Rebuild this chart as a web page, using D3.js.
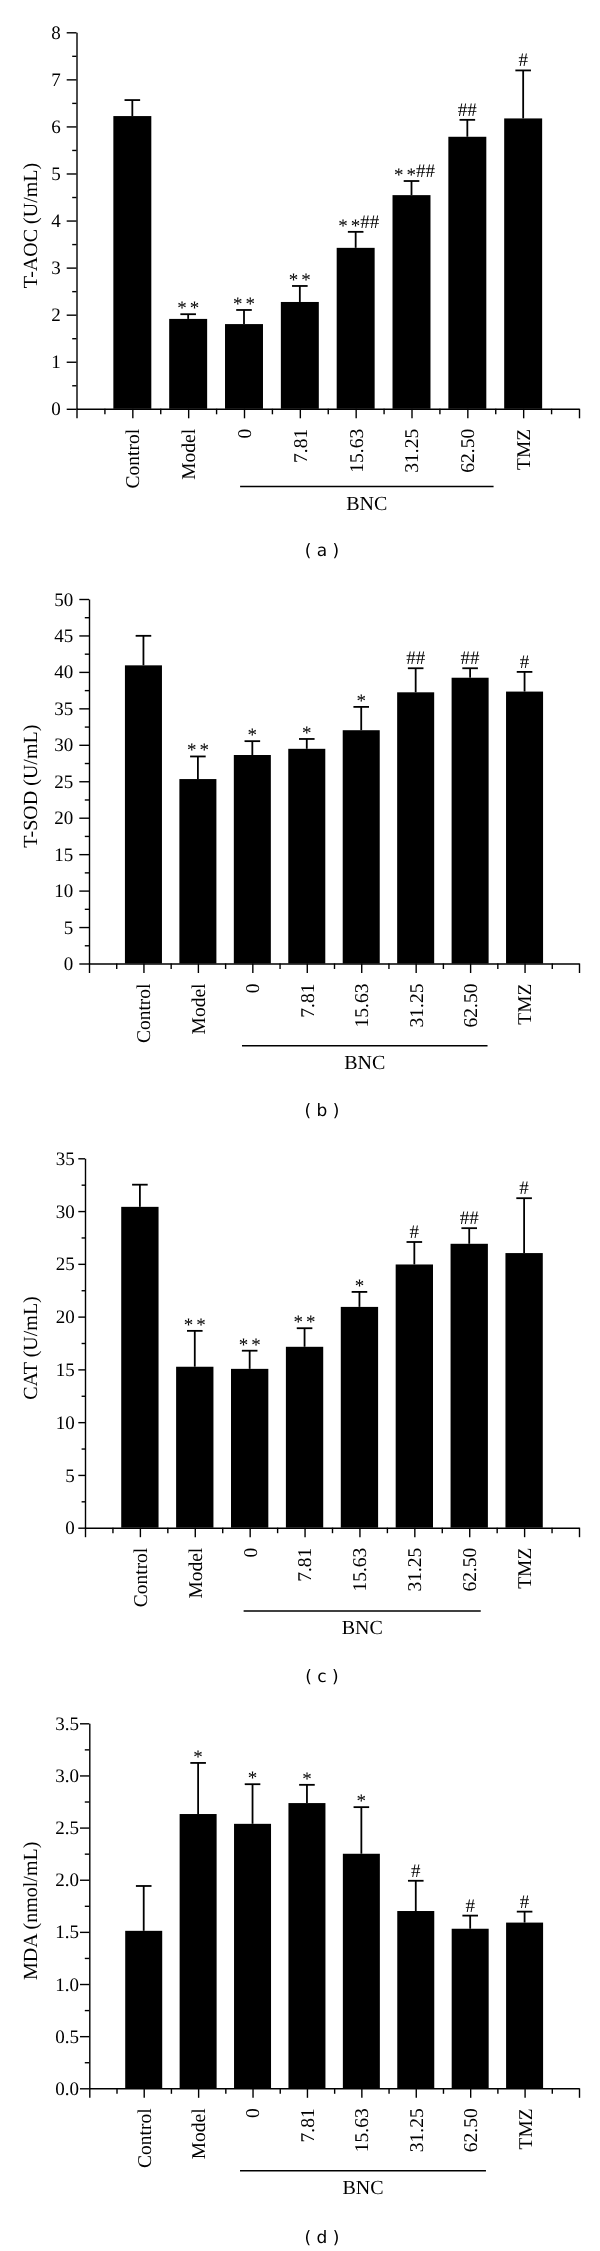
<!DOCTYPE html>
<html>
<head>
<meta charset="utf-8">
<script src="https://cdn.jsdelivr.net/npm/d3@7"></script>
<style>
  html, body { margin: 0; padding: 0; background: #fff; }
  svg { display: block; will-change: transform; }
  text { fill: #000; -webkit-font-smoothing: antialiased; text-rendering: geometricPrecision; }
</style>
</head>
<body>
<script>
// ---------------- DATA ----------------
const categories = ["Control", "Model", "0", "7.81", "15.63", "31.25", "62.50", "TMZ"];
const groupLabel = "BNC";

const taocMean = [6.22, 1.91, 1.80, 2.27, 3.42, 4.54, 5.78, 6.17];
const taocSD   = [0.34, 0.10, 0.30, 0.34, 0.34, 0.30, 0.36, 1.02];
const taocSig  = ["", "**", "**", "**", "**##", "**##", "##", "#"];

const sodMean = [40.9, 25.3, 28.6, 29.45, 32.0, 37.2, 39.2, 37.3];
const sodSD   = [4.05, 3.1, 1.9, 1.35, 3.2, 3.3, 1.3, 2.7];
const sodSig  = ["", "**", "*", "*", "*", "##", "##", "#"];

const catMean = [30.4, 15.25, 15.05, 17.14, 20.92, 24.94, 26.9, 26.02];
const catSD   = [2.1, 3.4, 1.72, 1.76, 1.42, 2.13, 1.48, 5.2];
const catSig  = ["", "**", "**", "**", "*", "#", "##", "#"];

const mdaMean = [1.51, 2.63, 2.536, 2.735, 2.249, 1.70, 1.53, 1.589];
const mdaSD   = [0.43, 0.49, 0.38, 0.175, 0.447, 0.29, 0.126, 0.105];
const mdaSig  = ["", "*", "*", "*", "*", "#", "#", "#"];

const yTitles = ["T-AOC (U/mL)", "T-SOD (U/mL)", "CAT (U/mL)", "MDA (nmol/mL)"];
const panelTags = ["( a )", "( b )", "( c )", "( d )"];
const yMaxes = [8, 50, 35, 3.5];
const ySteps = [1, 5, 5, 0.5];
const yFormats = ["d", "d", "d", ".1f"];

// ---------------- LAYOUT ----------------
const layout = [
  { x0: 76.5, x1: 579, yTop: 32.3,   yBase: 408.8,  tk: 9.8, tkMinor: 4.3, pad: 6, bncLine: 486.5, bnc: [1.93, 6.47], tagY: 556 },
  { x0: 89,   x1: 579, yTop: 599.0,  yBase: 963.5,  tk: 9.7, tkMinor: 4.2, pad: 6, bncLine: 1045.7, bnc: [1.81, 6.32], tagY: 1116 },
  { x0: 85,   x1: 579, yTop: 1158.3, yBase: 1527.7, tk: 6.7, tkMinor: 3.4, pad: 3.5, bncLine: 1611, bnc: [1.89, 6.21], tagY: 1682 },
  { x0: 89.3, x1: 579, yTop: 1723.3, yBase: 2088.3, tk: 9.3, tkMinor: 4.5, pad: 1, bncLine: 2170.7, bnc: [1.77, 6.29], tagY: 2243 }
];

const means = [taocMean, sodMean, catMean, mdaMean];
const sds = [taocSD, sodSD, catSD, mdaSD];
const sigs = [taocSig, sodSig, catSig, mdaSig];

const serif = "'Liberation Serif', 'Times New Roman', serif";
const W = 600, H = 2251;

const svg = d3.select("body").append("svg")
  .attr("width", W).attr("height", H)
  .attr("viewBox", `0 0 ${W} ${H}`);

layout.forEach((L, p) => {
  const g = svg.append("g");
  const x = d3.scaleLinear().domain([-1, 8]).range([L.x0, L.x1]);
  const y = d3.scaleLinear().domain([0, yMaxes[p]]).range([L.yBase, L.yTop]);
  const step = x(1) - x(0);
  const bw = step * 0.68;

  const data = categories.map((c, i) => ({ i, c, m: means[p][i], sd: sds[p][i], sig: sigs[p][i] }));

  // bars
  g.append("g").selectAll("rect").data(data).join("rect")
    .attr("x", d => x(d.i) - bw / 2)
    .attr("width", bw)
    .attr("y", d => y(d.m))
    .attr("height", d => y(0) - y(d.m))
    .attr("fill", "#000");

  // error bars (upper only)
  const eb = g.append("g").attr("stroke", "#000").attr("stroke-width", 1.8);
  eb.selectAll("line.v").data(data).join("line").attr("class", "v")
    .attr("x1", d => x(d.i)).attr("x2", d => x(d.i))
    .attr("y1", d => y(d.m)).attr("y2", d => y(d.m + d.sd));
  eb.selectAll("line.c").data(data).join("line").attr("class", "c")
    .attr("x1", d => x(d.i) - 7.8).attr("x2", d => x(d.i) + 7.8)
    .attr("y1", d => y(d.m + d.sd)).attr("y2", d => y(d.m + d.sd));

  // significance marks (asterisks lowered to the height of the hash signs)
  const sg = g.append("g").attr("font-family", serif).attr("font-size", 19).attr("fill", "#000");
  data.filter(d => d.sig).forEach(d => {
    const stars = (d.sig.match(/\*/g) || []).length;
    const hashes = (d.sig.match(/#/g) || []).length;
    const base = y(d.m + d.sd) - 4;
    const starW = stars ? stars * 9.5 + (stars - 1) * 3 : 0;
    const hashW = hashes * 9.5;
    const total = starW + hashW;
    let cx = x(d.i) - total / 2 + (stars && hashes ? 3 : 0);
    for (let k = 0; k < stars; k++) {
      sg.append("text").attr("x", cx + 4.75).attr("y", base + 3.8)
        .attr("text-anchor", "middle").text("*");
      cx += 12.5;
    }
    if (stars) cx -= 3;
    if (hashes) {
      sg.append("text").attr("x", cx).attr("y", base)
        .attr("text-anchor", "start").text("#".repeat(hashes));
    }
  });

  // y axis
  const majors = d3.range(0, yMaxes[p] + 1e-9, ySteps[p]);
  const minors = d3.range(ySteps[p] / 2, yMaxes[p], ySteps[p]);
  const yAx = g.append("g").attr("transform", `translate(${L.x0},0)`)
    .call(d3.axisLeft(y).tickValues(majors).tickSize(L.tk).tickSizeOuter(0).tickPadding(L.pad)
      .tickFormat(d3.format(yFormats[p])));
  yAx.selectAll("text").attr("font-family", serif).attr("font-size", 19).attr("fill", "#000");
  const yMin = g.append("g").attr("transform", `translate(${L.x0},0)`)
    .call(d3.axisLeft(y).tickValues(minors).tickSize(L.tkMinor).tickFormat(""));
  yMin.select(".domain").remove();

  // x axis
  const xAx = g.append("g").attr("transform", `translate(0,${L.yBase})`)
    .call(d3.axisBottom(x).tickValues(d3.range(-1, 9)).tickSize(9.5).tickSizeOuter(0)
      .tickFormat(i => categories[i] !== undefined ? categories[i] : ""));
  xAx.selectAll("text")
    .attr("font-family", serif).attr("font-size", 19.5).attr("fill", "#000")
    .attr("text-anchor", "end")
    .attr("transform", "rotate(-90)")
    .attr("x", -20).attr("y", 0).attr("dy", "0.33em");
  const xMin = g.append("g").attr("transform", `translate(0,${L.yBase})`)
    .call(d3.axisBottom(x).tickValues(d3.range(-0.5, 8, 1)).tickSize(5.5).tickFormat(""));
  xMin.select(".domain").remove();

  g.selectAll(".domain, .tick line").attr("stroke", "#000").attr("stroke-width", 1.4);

  // BNC group line and label
  const bx0 = x(L.bnc[0]), bx1 = x(L.bnc[1]);
  g.append("line").attr("x1", bx0).attr("x2", bx1).attr("y1", L.bncLine).attr("y2", L.bncLine)
    .attr("stroke", "#000").attr("stroke-width", 1.5);
  g.append("text").attr("x", (bx0 + bx1) / 2).attr("y", L.bncLine + 23)
    .attr("text-anchor", "middle").attr("font-family", serif).attr("font-size", 20)
    .text(groupLabel);

  // y title
  g.append("text")
    .attr("transform", `translate(37,${(L.yTop + L.yBase) / 2 + 5}) rotate(-90)`)
    .attr("text-anchor", "middle").attr("font-family", serif).attr("font-size", 20)
    .text(yTitles[p]);

  // panel tag
  g.append("text").attr("x", 322).attr("y", L.tagY)
    .attr("text-anchor", "middle").attr("font-family", "'DejaVu Sans', Verdana, sans-serif")
    .attr("font-size", 17).attr("xml:space", "preserve")
    .style("white-space", "pre")
    .text(panelTags[p]);
});
</script>
</body>
</html>
